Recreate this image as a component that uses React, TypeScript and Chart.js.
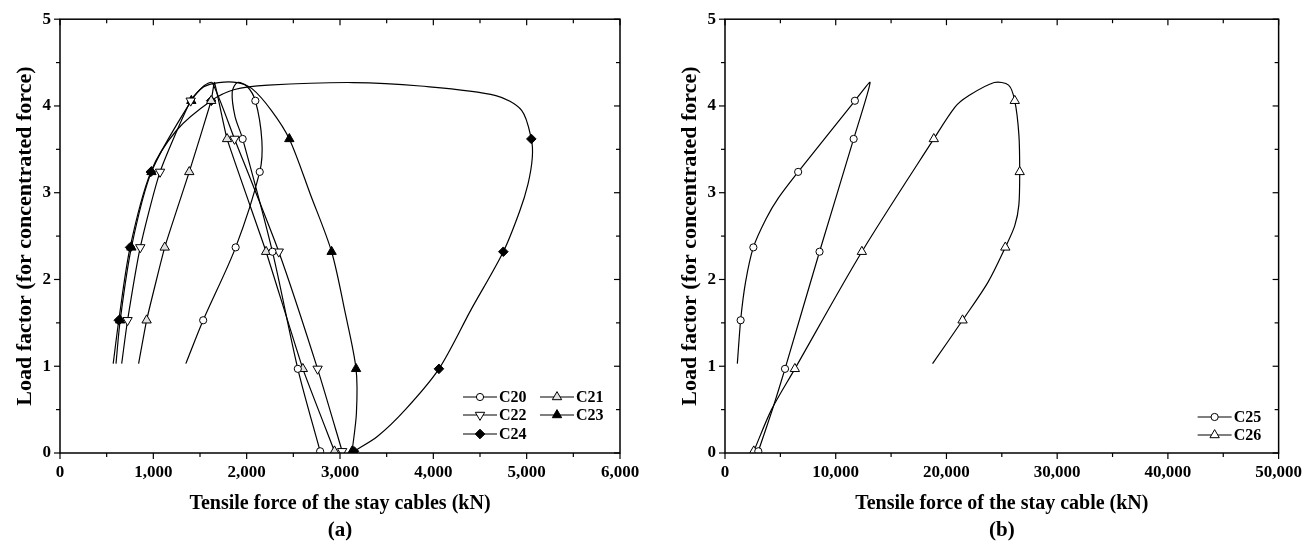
import React, { useEffect, useRef } from "react";
import { Chart, registerables } from "chart.js";
Chart.register(...registerables);

const FONT = "'Liberation Serif', 'Times New Roman', Times, serif";

// ---------- axis ticks ----------
const forceTicksA = [0, 1000, 2000, 3000, 4000, 5000, 6000];
const forceTicksB = [0, 10000, 20000, 30000, 40000, 50000];
const loadTicks = [0, 1, 2, 3, 4, 5];

// ---------- panel (a) ----------
const c20Force = [1348, 1534, 1882, 2140, 2163, 2093, 2000, 1900, 1845, 1875, 1957, 2276, 2548, 2787];
const c20Load = [1.03, 1.53, 2.37, 3.24, 3.6, 4.06, 4.23, 4.27, 4.16, 3.88, 3.62, 2.32, 0.97, 0.02];
const c20Marks = [1, 2, 3, 5, 10, 11, 12, 13];

const c21Force = [842, 928, 1122, 1385, 1620, 1655, 1790, 2208, 2602, 2941];
const c21Load = [1.03, 1.53, 2.37, 3.24, 4.06, 4.27, 3.62, 2.32, 0.97, 0.02];
const c21Marks = [1, 2, 3, 4, 6, 7, 8, 9];

const c22Force = [661, 724, 860, 1072, 1400, 1540, 1630, 1870, 2344, 2760, 3023];
const c22Load = [1.03, 1.53, 2.37, 3.24, 4.06, 4.23, 4.27, 3.62, 2.32, 0.97, 0.02];
const c22Marks = [1, 2, 3, 4, 7, 8, 9, 10];

const c23Force = [600, 645, 765, 980, 1407, 1540, 1700, 1900, 2057, 2264, 2457, 2683, 2910, 3051, 3172, 3176, 3130];
const c23Load = [1.03, 1.53, 2.37, 3.24, 4.06, 4.22, 4.27, 4.27, 4.2, 3.95, 3.62, 2.98, 2.32, 1.64, 0.97, 0.46, 0.02];
const c23Marks = [1, 2, 3, 4, 10, 12, 14, 16];

const c24Force = [570, 630, 751, 973, 1250, 1620, 1870, 2230, 3140, 3860, 4670, 4946, 5050, 5060, 5014, 4923, 4750, 4403, 4060, 3700, 3400, 3150];
const c24Load = [1.03, 1.53, 2.37, 3.24, 3.72, 4.06, 4.19, 4.24, 4.27, 4.23, 4.12, 3.95, 3.62, 3.4, 3.1, 2.78, 2.32, 1.65, 0.97, 0.5, 0.19, 0.02];
const c24Marks = [1, 2, 3, 5, 12, 16, 18, 21];

// ---------- panel (b) ----------
const c25Force = [1114, 1411, 1856, 2561, 3712, 4826, 6607, 11730, 13103, 11618, 8537, 5420, 4280, 3007];
const c25Load = [1.03, 1.53, 1.97, 2.37, 2.7, 2.94, 3.24, 4.06, 4.27, 3.62, 2.32, 0.97, 0.5, 0.02];
const c25Marks = [1, 3, 6, 7, 9, 10, 11, 13];

const c26Force = [18745, 21455, 23757, 25316, 26170, 26540, 26615, 26541, 26170, 25612, 24313, 21900, 20787, 18857, 12361, 6310, 4200, 2598];
const c26Load = [1.03, 1.53, 1.97, 2.37, 2.62, 2.86, 3.24, 3.67, 4.06, 4.24, 4.27, 4.11, 3.99, 3.62, 2.32, 0.97, 0.5, 0.02];
const c26Marks = [1, 3, 6, 8, 13, 14, 15, 17];

type Shape = "circle" | "triUp" | "triDown" | "diamond";
interface MarkerStyle { shape: Shape; fill: string; }
const STYLES: Record<string, MarkerStyle> = {
  C20: { shape: "circle", fill: "#ffffff" },
  C21: { shape: "triUp", fill: "#e2e2e2" },
  C22: { shape: "triDown", fill: "#ffffff" },
  C23: { shape: "triUp", fill: "#000000" },
  C24: { shape: "diamond", fill: "#000000" },
  C25: { shape: "circle", fill: "#ffffff" },
  C26: { shape: "triUp", fill: "#ffffff" },
};

interface Series { label: string; force: number[]; load: number[]; marks: number[]; tension: number; }

const seriesA: Series[] = [
  { label: "C20", force: c20Force, load: c20Load, marks: c20Marks, tension: 0.3 },
  { label: "C21", force: c21Force, load: c21Load, marks: c21Marks, tension: 0.12 },
  { label: "C22", force: c22Force, load: c22Load, marks: c22Marks, tension: 0.2 },
  { label: "C23", force: c23Force, load: c23Load, marks: c23Marks, tension: 0.3 },
  { label: "C24", force: c24Force, load: c24Load, marks: c24Marks, tension: 0.3 },
];
const seriesB: Series[] = [
  { label: "C25", force: c25Force, load: c25Load, marks: c25Marks, tension: 0.2 },
  { label: "C26", force: c26Force, load: c26Load, marks: c26Marks, tension: 0.3 },
];

function drawMarker(ctx: CanvasRenderingContext2D, s: MarkerStyle, x: number, y: number) {
  ctx.save();
  ctx.beginPath();
  if (s.shape === "circle") {
    ctx.arc(x, y, 3.6, 0, Math.PI * 2);
  } else if (s.shape === "diamond") {
    const r = 4.8;
    ctx.moveTo(x - r, y); ctx.lineTo(x, y - r); ctx.lineTo(x + r, y); ctx.lineTo(x, y + r);
    ctx.closePath();
  } else {
    const r = 5.4;
    const d = s.shape === "triUp" ? 1 : -1;
    ctx.moveTo(x, y - d * r);
    ctx.lineTo(x + 0.866 * r, y + d * 0.5 * r);
    ctx.lineTo(x - 0.866 * r, y + d * 0.5 * r);
    ctx.closePath();
  }
  ctx.fillStyle = s.fill;
  ctx.fill();
  ctx.lineWidth = 1;
  ctx.strokeStyle = "#000";
  ctx.stroke();
  ctx.restore();
}

function midpoints(t: number[]) {
  const out: number[] = [];
  for (let i = 0; i < t.length - 1; i++) out.push((t[i] + t[i + 1]) / 2);
  return out;
}

interface LegendItem { label: string; dx: number; dy: number; }

function makeConfig(
  series: Series[],
  xTicks: number[],
  xTitle: string,
  panelLabel: string,
  legend: LegendItem[],
  yAxisWidth: number,
  yTitlePad: number,
  padRight: number
): any {
  const xMax = xTicks[xTicks.length - 1];
  const frame = {
    id: "frameTicks",
    afterDraw(chart: any) {
      const { ctx, chartArea: a, scales } = chart;
      const xs = scales.x, ys = scales.y;
      ctx.save();
      ctx.strokeStyle = "#000";
      ctx.lineWidth = 1.5;
      ctx.strokeRect(a.left, a.top, a.right - a.left, a.bottom - a.top);
      ctx.lineWidth = 1.2;
      const tick = (x1: number, y1: number, x2: number, y2: number) => {
        ctx.beginPath(); ctx.moveTo(x1, y1); ctx.lineTo(x2, y2); ctx.stroke();
      };
      const xMinor = midpoints(xTicks), yMinor = midpoints(loadTicks);
      xTicks.forEach((v) => { const p = xs.getPixelForValue(v); tick(p, a.bottom, p, a.bottom + 6); tick(p, a.top, p, a.top + 6); });
      xMinor.forEach((v) => { const p = xs.getPixelForValue(v); tick(p, a.bottom, p, a.bottom + 4); tick(p, a.top, p, a.top + 4); });
      loadTicks.forEach((v) => { const p = ys.getPixelForValue(v); tick(a.left - 6, p, a.left, p); tick(a.right - 6, p, a.right, p); });
      yMinor.forEach((v) => { const p = ys.getPixelForValue(v); tick(a.left - 4, p, a.left, p); tick(a.right - 4, p, a.right, p); });

      // panel label
      ctx.fillStyle = "#000";
      ctx.font = `bold 21px ${FONT}`;
      ctx.textAlign = "center";
      ctx.textBaseline = "middle";
      ctx.fillText(panelLabel, (a.left + a.right) / 2, 531);

      // legend
      ctx.font = `bold 16px ${FONT}`;
      ctx.textAlign = "left";
      legend.forEach((it) => {
        const x0 = a.right + it.dx, y0 = a.bottom + it.dy;
        ctx.lineWidth = 1.2;
        tick(x0, y0, x0 + 34, y0);
        drawMarker(ctx, STYLES[it.label], x0 + 17, y0);
        ctx.fillStyle = "#000";
        ctx.fillText(it.label, x0 + 36, y0 + 1);
      });
      ctx.restore();
    },
  };

  const datasets = series.map((s) => {
    const st = STYLES[s.label];
    return {
      label: s.label,
      data: s.force.map((x, i) => ({ x, y: s.load[i] })),
      showLine: true,
      borderColor: "#000",
      borderWidth: 1.2,
      tension: s.tension,
      pointStyle: st.shape === "circle" ? "circle" : st.shape === "diamond" ? "rectRot" : "triangle",
      pointRotation: st.shape === "triDown" ? 180 : 0,
      pointRadius: (c: any) => (s.marks.includes(c.dataIndex) ? (st.shape === "circle" ? 3.6 : st.shape === "diamond" ? 4.8 : 5.4) : 0),
      pointBackgroundColor: st.fill,
      pointBorderColor: "#000",
      pointBorderWidth: 1,
      pointHoverRadius: 0,
    };
  });

  const tickFont = { family: FONT, size: 17, weight: "bold" as const };
  const xTitleFont = { family: FONT, size: 20, weight: "bold" as const };
  const yTitleFont = { family: FONT, size: 22, weight: "bold" as const };

  return {
    type: "scatter",
    data: { datasets },
    options: {
      responsive: false,
      animation: false,
      events: [],
      layout: { padding: { left: 0, right: padRight, top: 19, bottom: 0 } },
      plugins: { legend: { display: false }, tooltip: { enabled: false }, title: { display: false } },
      scales: {
        x: {
          type: "linear",
          min: 0,
          max: xMax,
          afterBuildTicks: (sc: any) => { sc.ticks = xTicks.map((v) => ({ value: v })); },
          afterFit: (sc: any) => { sc.height = 100; },
          grid: { display: false, drawTicks: false },
          border: { display: false },
          ticks: {
            autoSkip: false, maxRotation: 0, padding: 9, color: "#000", font: tickFont,
            callback: (v: any) => Number(v).toLocaleString("en-US"),
          },
          title: { display: true, text: xTitle, color: "#000", font: xTitleFont, padding: { top: 0, bottom: 37 } },
        },
        y: {
          type: "linear",
          min: 0,
          max: 5,
          afterBuildTicks: (sc: any) => { sc.ticks = loadTicks.map((v) => ({ value: v })); },
          afterFit: (sc: any) => { sc.width = yAxisWidth; },
          grid: { display: false, drawTicks: false },
          border: { display: false },
          ticks: { autoSkip: false, padding: 9, color: "#000", font: tickFont },
          title: {
            display: true, text: "Load factor (for concentrated force)", color: "#000", font: yTitleFont,
            padding: { top: yTitlePad, bottom: 0 },
          },
        },
      },
    },
    plugins: [frame],
  };
}

function Panel(props: { cfg: () => any; left: number; width: number }) {
  const ref = useRef<HTMLCanvasElement | null>(null);
  useEffect(() => {
    if (!ref.current) return;
    const chart = new Chart(ref.current, props.cfg());
    return () => chart.destroy();
  }, []);
  return (
    <canvas
      ref={ref}
      width={props.width}
      height={553}
      style={{ position: "absolute", left: props.left, top: 0, width: props.width, height: 553 }}
    />
  );
}

export default function App() {
  const legendA: LegendItem[] = [
    { label: "C20", dx: -157, dy: -56 },
    { label: "C21", dx: -80, dy: -56 },
    { label: "C22", dx: -157, dy: -38 },
    { label: "C23", dx: -80, dy: -38 },
    { label: "C24", dx: -157, dy: -19 },
  ];
  const legendB: LegendItem[] = [
    { label: "C25", dx: -81, dy: -36 },
    { label: "C26", dx: -81, dy: -18 },
  ];
  return (
    <div style={{ position: "absolute", left: 0, top: 0, width: 1311, height: 553, background: "#fff" }}>
      <Panel
        left={0}
        width={655}
        cfg={() => makeConfig(seriesA, forceTicksA, "Tensile force of the stay cables (kN)", "(a)", legendA, 60, 12, 35)}
      />
      <Panel
        left={655}
        width={656}
        cfg={() => makeConfig(seriesB, forceTicksB, "Tensile force of the stay cable (kN)", "(b)", legendB, 70, 22, 24)}
      />
    </div>
  );
}
